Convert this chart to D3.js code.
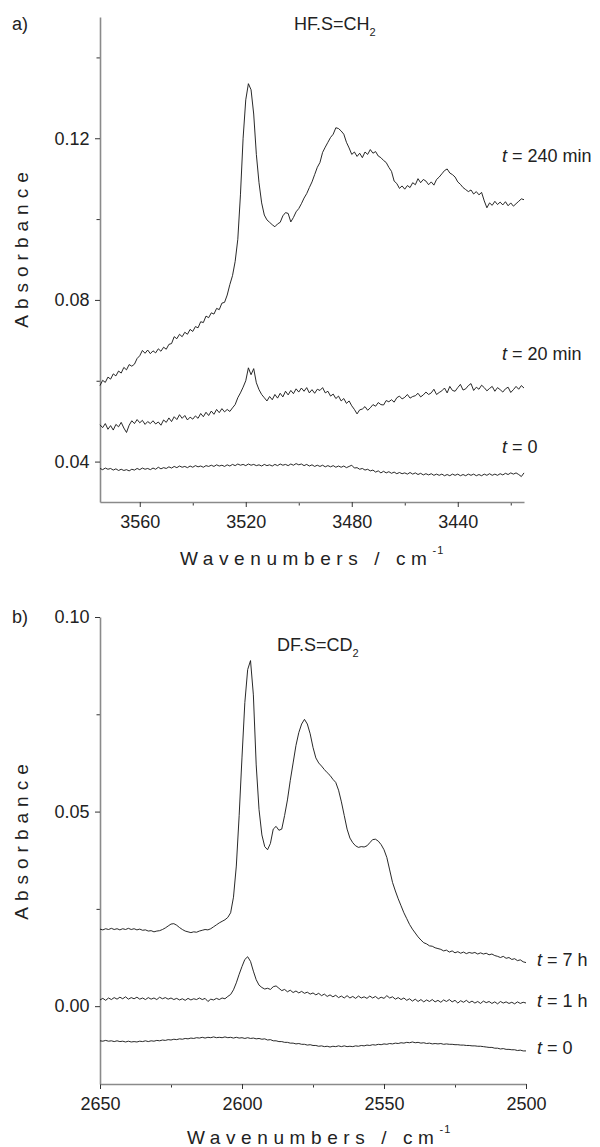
<!DOCTYPE html>
<html><head><meta charset="utf-8">
<script src="https://cdn.jsdelivr.net/npm/d3@7"></script>
<style>
body{margin:0;background:#fff;}
svg{display:block;font-family:"Liberation Sans",Arial,Helvetica,sans-serif;}
</style></head><body>
<svg id="c" width="600" height="1147"></svg>
<script>
// ---------- Panel a) HF.S=CH2 ----------
const wavenumbersA = d3.range(3575, 3414, -1); // 3575 ... 3415, 1 cm-1 steps
const absA_t0 = [
0.0383,0.0380,0.0384,0.0381,0.0383,0.0379,0.0382,0.0378,0.0381,0.0378,
0.0380,0.0377,0.0381,0.0379,0.0383,0.0380,0.0384,0.0381,0.0383,0.0380,
0.0384,0.0381,0.0386,0.0382,0.0385,0.0383,0.0387,0.0384,0.0388,0.0385,
0.0389,0.0386,0.0388,0.0385,0.0389,0.0386,0.0390,0.0387,0.0389,0.0386,
0.0390,0.0388,0.0391,0.0388,0.0392,0.0389,0.0391,0.0388,0.0392,0.0389,
0.0393,0.0390,0.0394,0.0391,0.0393,0.0390,0.0394,0.0391,0.0393,0.0390,
0.0392,0.0389,0.0393,0.0390,0.0392,0.0389,0.0393,0.0390,0.0394,0.0391,
0.0393,0.0390,0.0394,0.0391,0.0395,0.0392,0.0394,0.0390,0.0393,0.0389,
0.0392,0.0388,0.0391,0.0388,0.0391,0.0387,0.0390,0.0387,0.0390,0.0386,
0.0389,0.0386,0.0389,0.0385,0.0388,0.0391,0.0384,0.0385,0.0381,0.0383,
0.0379,0.0381,0.0377,0.0379,0.0374,0.0377,0.0372,0.0376,0.0372,0.0375,
0.0371,0.0374,0.0370,0.0373,0.0370,0.0372,0.0369,0.0373,0.0369,0.0372,
0.0368,0.0371,0.0367,0.0370,0.0367,0.0370,0.0366,0.0369,0.0366,0.0369,
0.0365,0.0368,0.0365,0.0369,0.0366,0.0369,0.0365,0.0368,0.0365,0.0369,
0.0366,0.0369,0.0365,0.0368,0.0365,0.0369,0.0366,0.0370,0.0366,0.0369,
0.0366,0.0370,0.0367,0.0371,0.0368,0.0372,0.0369,0.0372,0.0368,0.0363,
0.0372];
const absA_t20 = [
0.0491,0.0484,0.0494,0.0480,0.0489,0.0478,0.0492,0.0486,0.0497,0.0483,
0.0472,0.0490,0.0501,0.0494,0.0504,0.0496,0.0502,0.0492,0.0499,0.0494,
0.0501,0.0493,0.0498,0.0490,0.0503,0.0497,0.0508,0.0499,0.0511,0.0504,
0.0516,0.0507,0.0514,0.0503,0.0510,0.0505,0.0513,0.0507,0.0519,0.0511,
0.0522,0.0514,0.0525,0.0517,0.0529,0.0521,0.0531,0.0523,0.0529,0.0524,
0.0533,0.0541,0.0558,0.0570,0.0584,0.0600,0.0632,0.0615,0.0630,0.0595,
0.0578,0.0566,0.0558,0.0550,0.0561,0.0553,0.0566,0.0557,0.0569,0.0560,
0.0574,0.0565,0.0576,0.0568,0.0580,0.0572,0.0582,0.0574,0.0583,0.0570,
0.0578,0.0569,0.0579,0.0576,0.0583,0.0570,0.0574,0.0562,0.0567,0.0556,
0.0562,0.0550,0.0556,0.0544,0.0550,0.0538,
0.0529,0.0518,0.0528,0.0530,0.0536,0.0527,0.0533,0.0541,0.0537,0.0546,
0.0541,0.0540,0.0551,0.0548,0.0553,0.0547,0.0558,0.0562,0.0555,0.0559,
0.0566,0.0557,0.0561,0.0563,0.0569,0.0560,0.0565,0.0572,0.0566,0.0570,
0.0579,0.0566,0.0571,0.0575,0.0582,0.0570,0.0586,0.0576,0.0574,0.0583,
0.0591,0.0577,0.0580,0.0588,0.0593,0.0576,0.0584,0.0579,0.0589,0.0583,
0.0575,0.0581,0.0586,0.0574,0.0583,0.0578,0.0572,0.0580,0.0584,0.0571,
0.0578,0.0586,0.0579,0.0588,0.0582];
const absA_t240 = [
0.0588,0.0601,0.0596,0.0609,0.0604,0.0617,0.0612,0.0624,0.0619,0.0633,
0.0627,0.0640,0.0636,0.0641,0.0655,0.0662,0.0675,0.0668,0.0676,0.0667,
0.0674,0.0669,0.0679,0.0673,0.0683,0.0678,0.0690,0.0692,0.0709,0.0704,
0.0715,0.0709,0.0720,0.0715,0.0727,0.0722,0.0734,0.0731,0.0746,0.0744,
0.0760,0.0756,0.0768,0.0765,0.0779,0.0776,0.0792,0.0794,0.0812,0.0838,
0.0860,0.0895,0.0950,0.1060,0.1200,0.1295,0.1335,0.1320,0.1260,0.1160,
0.1090,0.1040,0.1010,0.0998,0.0992,0.0986,0.0981,0.0988,0.0992,0.1008,
0.1016,0.1014,0.0993,0.1004,0.1018,0.1026,0.1038,0.1052,0.1063,0.1078,
0.1092,0.1110,0.1128,0.1140,0.1165,0.1178,0.1190,0.1202,0.1210,0.1226,
0.1224,0.1218,0.1210,0.1190,0.1176,0.1160,0.1166,0.1155,0.1163,0.1152,
0.1166,0.1160,0.1172,0.1163,0.1167,0.1156,0.1152,0.1145,0.1140,0.1128,
0.1118,0.1094,0.1088,0.1076,0.1082,0.1074,0.1083,0.1078,0.1090,0.1085,
0.1100,0.1090,0.1098,0.1094,0.1085,0.1092,0.1084,0.1098,0.1104,0.1112,
0.1120,0.1124,0.1114,0.1110,0.1104,0.1092,0.1086,0.1078,0.1073,0.1068,
0.1072,0.1062,0.1068,0.1060,0.1066,0.1045,0.1028,0.1040,0.1034,0.1044,
0.1036,0.1042,0.1035,0.1043,0.1033,0.1040,0.1032,0.1038,0.1044,0.1050,
0.1048];
const xTicksA = [3560, 3520, 3480, 3440];
const xMinorA = [3540, 3500, 3460, 3420];
const yTicksA = [0.04, 0.08, 0.12];
const yMinorA = [0.06, 0.10, 0.14];
const labelsA = ["= 240 min", "= 20 min", "= 0"];

// ---------- Panel b) DF.S=CD2 ----------
const wavenumbersB = d3.range(2650, 2499, -1); // 2650 ... 2500
const absB_t0 = [
-0.0089,-0.0090,-0.0088,-0.0090,-0.0089,-0.0091,-0.0089,-0.0091,-0.0090,-0.0092,
-0.0090,-0.0092,-0.0091,-0.0092,-0.0090,-0.0091,-0.0089,-0.0091,-0.0089,-0.0090,
-0.0088,-0.0089,-0.0087,-0.0088,-0.0086,-0.0087,-0.0085,-0.0086,-0.0084,-0.0085,
-0.0083,-0.0084,-0.0082,-0.0083,-0.0081,-0.0082,-0.0080,-0.0082,-0.0080,-0.0081,
-0.0079,-0.0081,-0.0080,-0.0081,-0.0079,-0.0081,-0.0080,-0.0082,-0.0080,-0.0082,
-0.0081,-0.0083,-0.0081,-0.0083,-0.0082,-0.0084,-0.0083,-0.0085,-0.0084,-0.0087,
-0.0086,-0.0089,-0.0089,-0.0091,-0.0091,-0.0093,-0.0093,-0.0095,-0.0095,-0.0097,
-0.0096,-0.0098,-0.0098,-0.0100,-0.0099,-0.0101,-0.0101,-0.0103,-0.0102,-0.0104,
-0.0103,-0.0105,-0.0103,-0.0104,-0.0102,-0.0104,-0.0102,-0.0104,-0.0103,-0.0104,
-0.0102,-0.0103,-0.0101,-0.0102,-0.0100,-0.0101,-0.0099,-0.0100,-0.0098,-0.0099,
-0.0097,-0.0098,-0.0096,-0.0097,-0.0095,-0.0096,-0.0094,-0.0095,-0.0093,-0.0094,
-0.0092,-0.0094,-0.0093,-0.0095,-0.0094,-0.0096,-0.0095,-0.0097,-0.0096,-0.0097,
-0.0096,-0.0098,-0.0097,-0.0098,-0.0098,-0.0099,-0.0099,-0.0100,-0.0100,-0.0101,
-0.0101,-0.0102,-0.0102,-0.0103,-0.0103,-0.0104,-0.0105,-0.0106,-0.0106,-0.0108,
-0.0108,-0.0110,-0.0109,-0.0111,-0.0111,-0.0112,-0.0112,-0.0114,-0.0113,-0.0115,
-0.0115];
const absB_t1h = [
0.0016,0.0020,0.0015,0.0021,0.0017,0.0022,0.0018,0.0023,0.0019,0.0024,
0.0018,0.0022,0.0019,0.0023,0.0018,0.0021,0.0017,0.0022,0.0018,0.0021,
0.0017,0.0023,0.0019,0.0022,0.0018,0.0021,0.0017,0.0020,0.0016,0.0019,
0.0015,0.0020,0.0016,0.0019,0.0017,0.0021,0.0017,0.0020,0.0012,0.0018,
0.0016,0.0020,0.0017,0.0021,0.0019,0.0025,0.0030,0.0042,0.0060,0.0082,
0.0102,0.0120,0.0127,0.0115,0.0090,0.0068,0.0054,0.0048,0.0044,0.0046,
0.0043,0.0050,0.0052,0.0046,0.0040,0.0043,0.0037,0.0041,0.0035,0.0039,
0.0034,0.0038,0.0033,0.0036,0.0031,0.0034,0.0029,0.0033,0.0027,0.0031,
0.0025,0.0029,0.0024,0.0028,0.0022,0.0026,0.0021,0.0027,0.0021,0.0025,
0.0020,0.0026,0.0021,0.0024,0.0020,0.0026,0.0021,0.0025,0.0019,0.0023,
0.0020,0.0027,0.0021,0.0024,0.0018,0.0022,0.0017,0.0021,0.0015,0.0019,
0.0013,0.0018,0.0012,0.0017,0.0011,0.0016,0.0012,0.0017,0.0011,0.0015,
0.0010,0.0016,0.0012,0.0017,0.0011,0.0015,0.0008,0.0014,0.0010,0.0015,
0.0009,0.0013,0.0008,0.0012,0.0007,0.0013,0.0009,0.0012,0.0007,0.0011,
0.0006,0.0012,0.0008,0.0011,0.0007,0.0010,0.0006,0.0011,0.0007,0.0010,
0.0008];
const absB_t7h = [
0.0198,0.0196,0.0199,0.0197,0.0200,0.0197,0.0199,0.0196,0.0199,0.0197,
0.0200,0.0197,0.0199,0.0196,0.0198,0.0195,0.0196,0.0193,0.0194,0.0191,
0.0193,0.0194,0.0197,0.0201,0.0206,0.0211,0.0212,0.0208,0.0202,0.0197,
0.0193,0.0191,0.0189,0.0191,0.0190,0.0193,0.0195,0.0197,0.0196,0.0199,
0.0204,0.0209,0.0214,0.0218,0.0222,0.0228,0.0240,0.0280,0.0360,0.0490,
0.0640,0.0780,0.0865,0.0888,0.0800,0.0620,0.0505,0.0440,0.0410,0.0402,
0.0418,0.0455,0.0462,0.0452,0.0455,0.0490,0.0530,0.0580,0.0625,0.0670,
0.0703,0.0725,0.0737,0.0725,0.0700,0.0665,0.0638,0.0625,0.0617,0.0608,
0.0600,0.0593,0.0583,0.0575,0.0555,0.0525,0.0490,0.0455,0.0432,0.0420,
0.0412,0.0408,0.0410,0.0409,0.0412,0.0420,0.0428,0.0429,0.0424,0.0415,
0.0402,0.0382,0.0350,0.0318,0.0296,0.0276,0.0258,0.0240,0.0225,0.0210,
0.0198,0.0188,0.0178,0.0170,0.0163,0.0160,0.0155,0.0154,0.0150,0.0148,
0.0146,0.0142,0.0144,0.0139,0.0142,0.0137,0.0140,0.0136,0.0139,0.0135,
0.0138,0.0136,0.0138,0.0134,0.0137,0.0134,0.0136,0.0132,0.0134,0.0130,
0.0128,0.0125,0.0128,0.0123,0.0125,0.0120,0.0122,0.0117,0.0119,0.0114,
0.0112];
const xTicksB = [2650, 2600, 2550, 2500];
const xMinorB = [2625, 2575, 2525];
const yTicksB = [0.00, 0.05, 0.10];
const yMinorB = [0.025, 0.075];
const labelsB = ["= 7 h", "= 1 h", "= 0"];

// ---------- drawing ----------
const svg = d3.select("#c");
const TXT = "#222";
const FS = 18;

function panel(cfg) {
  const x = d3.scaleLinear().domain(cfg.xDomain).range([cfg.left, cfg.right]);
  const y = d3.scaleLinear().domain(cfg.yDomain).range([cfg.bottom, cfg.top]);
  const g = svg.append("g");

  // minor ticks
  g.append("g").attr("transform", `translate(0,${cfg.bottom})`)
    .call(d3.axisBottom(x).tickValues(cfg.xMinor).tickSize(3.5).tickFormat(""))
    .call(s => s.select(".domain").remove())
    .call(s => s.selectAll("line").attr("stroke", "#333"));
  g.append("g").attr("transform", `translate(${cfg.left},0)`)
    .call(d3.axisLeft(y).tickValues(cfg.yMinor).tickSize(3.5).tickFormat(""))
    .call(s => s.select(".domain").remove())
    .call(s => s.selectAll("line").attr("stroke", "#333"));

  // major axes
  const xa = g.append("g").attr("transform", `translate(0,${cfg.bottom})`)
    .call(d3.axisBottom(x).tickValues(cfg.xTicks).tickSize(5).tickSizeOuter(0).tickPadding(8).tickFormat(d3.format("d")));
  const ya = g.append("g").attr("transform", `translate(${cfg.left},0)`)
    .call(d3.axisLeft(y).tickValues(cfg.yTicks).tickSize(5).tickSizeOuter(0).tickPadding(5.5).tickFormat(d3.format(".2f")));
  [xa, ya].forEach(a => {
    a.select(".domain").attr("stroke", "#8a8a8a").attr("stroke-width", 1.6);
    a.selectAll(".tick line").attr("stroke", "#333");
    a.selectAll(".tick text").attr("fill", TXT).style("font-size", FS + "px")
      .style("font-family", '"Liberation Sans",Arial,sans-serif');
  });

  // curves
  const line = d3.line().x(d => x(d[0])).y(d => y(d[1]));
  cfg.series.forEach(s => {
    g.append("path").datum(cfg.wn.map((w, i) => [w, s[i]]))
      .attr("d", line).attr("fill", "none")
      .attr("stroke", "#111").attr("stroke-width", 0.9).attr("stroke-linejoin", "round");
  });

  // series labels
  cfg.labels.forEach((lab, i) => {
    const t = g.append("text").attr("x", cfg.labelX).attr("y", cfg.labelY[i])
      .attr("fill", TXT).style("font-size", FS + "px");
    t.append("tspan").style("font-style", "italic").text("t");
    t.append("tspan").text(" " + lab);
  });

  // title
  const tt = g.append("text").attr("x", cfg.titleX).attr("y", cfg.titleY)
    .attr("fill", TXT).style("font-size", FS + "px");
  tt.append("tspan").text(cfg.title);
  tt.append("tspan").attr("dy", 6).style("font-size", "11px").text("2");

  // panel letter
  g.append("text").attr("x", 12).attr("y", cfg.top + cfg.letterDy)
    .attr("fill", TXT).style("font-size", FS + "px").text(cfg.letter);

  // y title
  g.append("text").attr("transform", `translate(28,${cfg.yTitleY}) rotate(-90)`)
    .attr("text-anchor", "middle").attr("fill", TXT)
    .style("font-size", "19px").style("letter-spacing", "6px").text("Absorbance");

  // x title
  const xt = g.append("text").attr("x", cfg.xTitleX).attr("y", cfg.xTitleY)
    .attr("fill", TXT).style("font-size", "19px").style("letter-spacing", "5.6px");
  xt.append("tspan").text("Wavenumbers / cm");
  xt.append("tspan").attr("dy", -11).style("font-size", "11px").style("letter-spacing", "1px").text("-1");
}

panel({
  xDomain: [3575, 3415], yDomain: [0.03, 0.15],
  left: 100, right: 524, top: 17, bottom: 502,
  xTicks: xTicksA, xMinor: xMinorA, yTicks: yTicksA, yMinor: yMinorA,
  wn: wavenumbersA, series: [absA_t0, absA_t20, absA_t240],
  labels: labelsA, labelX: 502, labelY: [162, 360, 453],
  title: "HF.S=CH", titleX: 294, titleY: 30,
  letter: "a)", letterDy: 13,
  yTitleY: 247, xTitleX: 180, xTitleY: 565
});

panel({
  xDomain: [2650, 2500], yDomain: [-0.02, 0.10],
  left: 100, right: 526, top: 617, bottom: 1084,
  xTicks: xTicksB, xMinor: xMinorB, yTicks: yTicksB, yMinor: yMinorB,
  wn: wavenumbersB, series: [absB_t0, absB_t1h, absB_t7h],
  labels: labelsB, labelX: 537, labelY: [966, 1007, 1054],
  title: "DF.S=CD", titleX: 277, titleY: 651,
  letter: "b)", letterDy: 6,
  yTitleY: 839, xTitleX: 187, xTitleY: 1144
});
</script>
</body></html>
